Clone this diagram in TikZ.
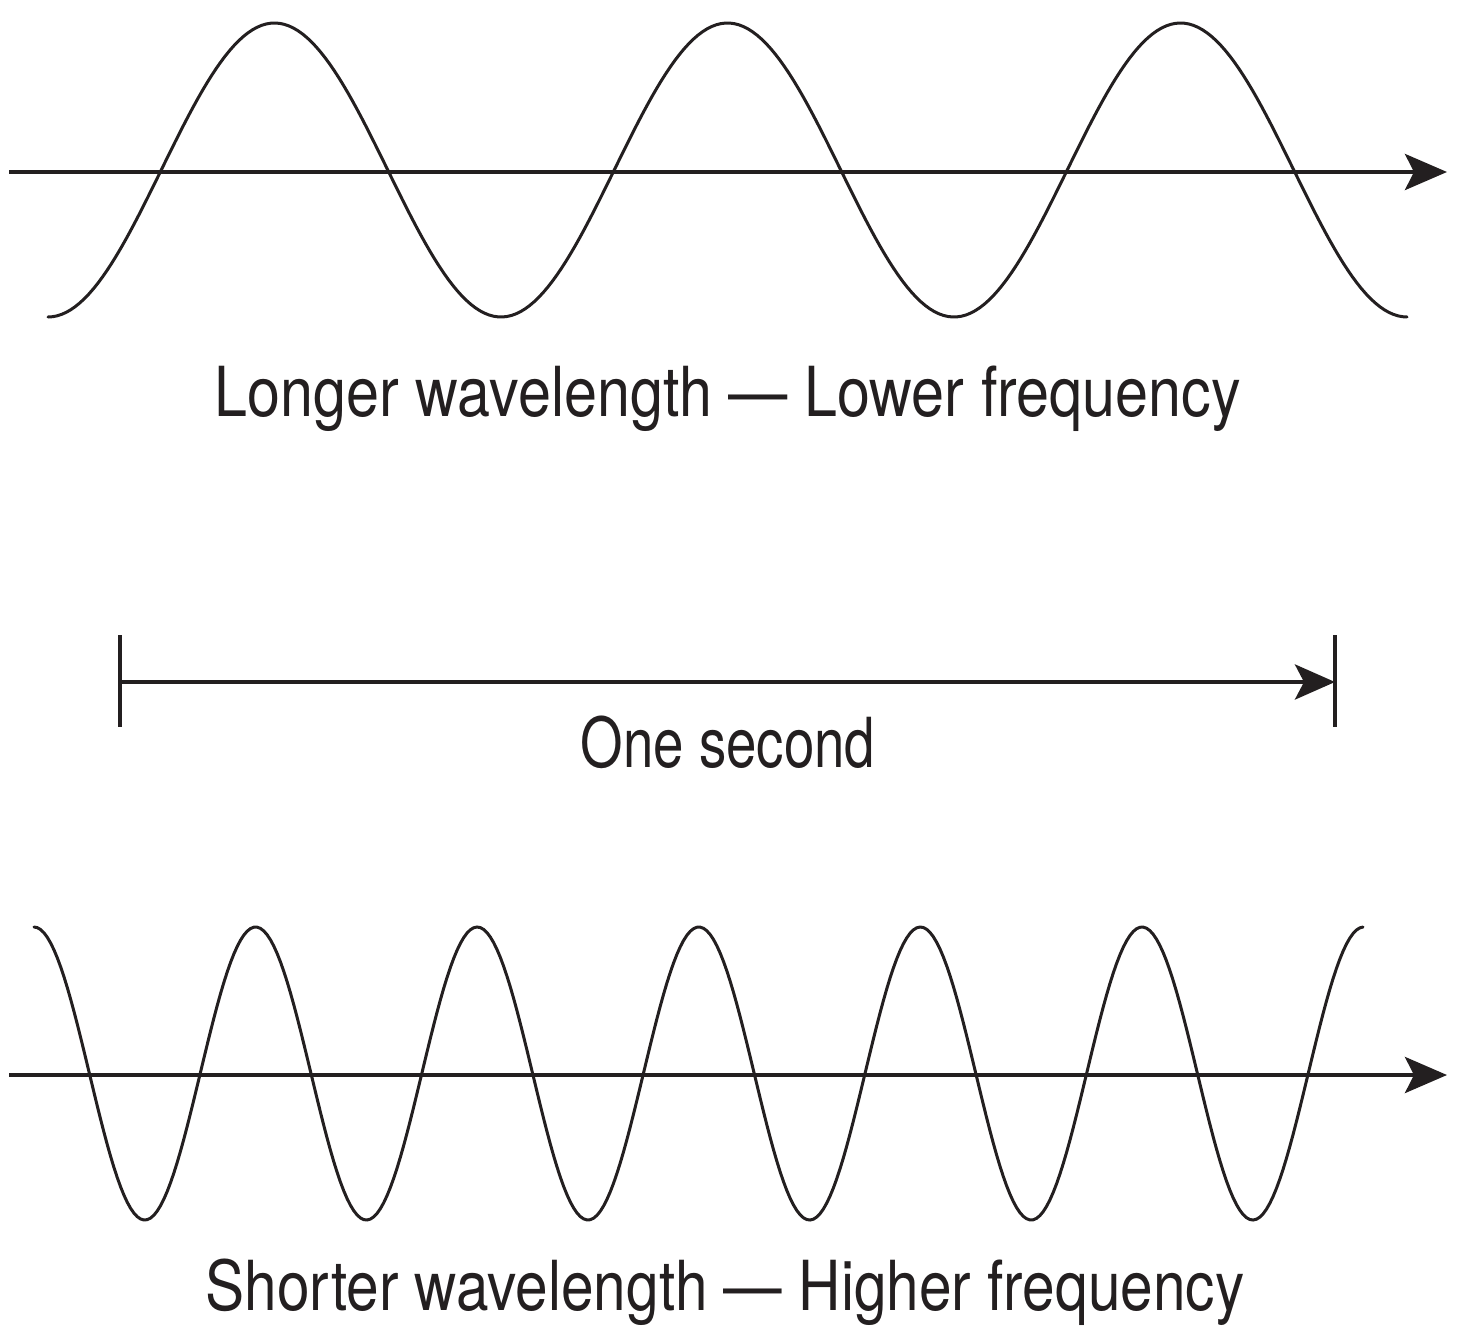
\documentclass[tikz,border=0pt]{standalone}
\usepackage{fontspec}
\newfontfamily\condfontA{TeX Gyre Heros}[FakeStretch=0.859]
\newfontfamily\condfontB{TeX Gyre Heros}[FakeStretch=0.792]
\newfontfamily\condfontC{TeX Gyre Heros}[FakeStretch=0.849]
\usetikzlibrary{arrows.meta}
\definecolor{ink}{RGB}{35,31,32}
\begin{document}
\begin{tikzpicture}[x=1pt,y=-1pt,
  wave/.style={draw=ink,line width=3pt,line cap=round},
  axisline/.style={draw=ink,line width=4.5pt,-{Stealth[length=42pt,width=36pt,inset=9pt]}},
  tickline/.style={draw=ink,line width=3.5pt},
  spanline/.style={draw=ink,line width=4.5pt,-{Stealth[length=40pt,width=35pt,inset=9pt]}},
  lbl/.style={anchor=base,inner sep=0pt,text=ink}]
\useasboundingbox (0,0) rectangle (1474,1338);
% top wave
\draw[wave] plot[domain=48:1407,samples=300] ({\x},{170+147*cos(0.794702*(\x-48))});
\coordinate (topS) at (9,172);
\coordinate (topE) at (1447,172);
\draw[axisline] (topS) -- (topE);
\node[lbl,font=\condfontA\fontsize{69}{80}\selectfont] (toplabel) at (728,416) {Longer wavelength — Lower frequency};
% one second span
\coordinate (lt1) at (120,635);
\coordinate (lt2) at (120,727);
\coordinate (rt1) at (1335,635);
\coordinate (rt2) at (1335,727);
\coordinate (spanS) at (120,682);
\coordinate (spanE) at (1335,682);
\draw[tickline] (lt1) -- (lt2);
\draw[tickline] (rt1) -- (rt2);
\draw[spanline] (spanS) -- (spanE);
\node[lbl,font=\condfontB\fontsize{69}{80}\selectfont] (midlabel) at (728,767) {One second};
% bottom wave
\draw[wave] plot[domain=34:1363,samples=400] ({\x},{1073.5-146.5*cos(1.624549*(\x-34))});
\coordinate (botS) at (9,1075);
\coordinate (botE) at (1447,1075);
\draw[axisline] (botS) -- (botE);
\node[lbl,font=\condfontC\fontsize{69}{80}\selectfont] (botlabel) at (725,1310) {Shorter wavelength — Higher frequency};
\end{tikzpicture}
\end{document}
